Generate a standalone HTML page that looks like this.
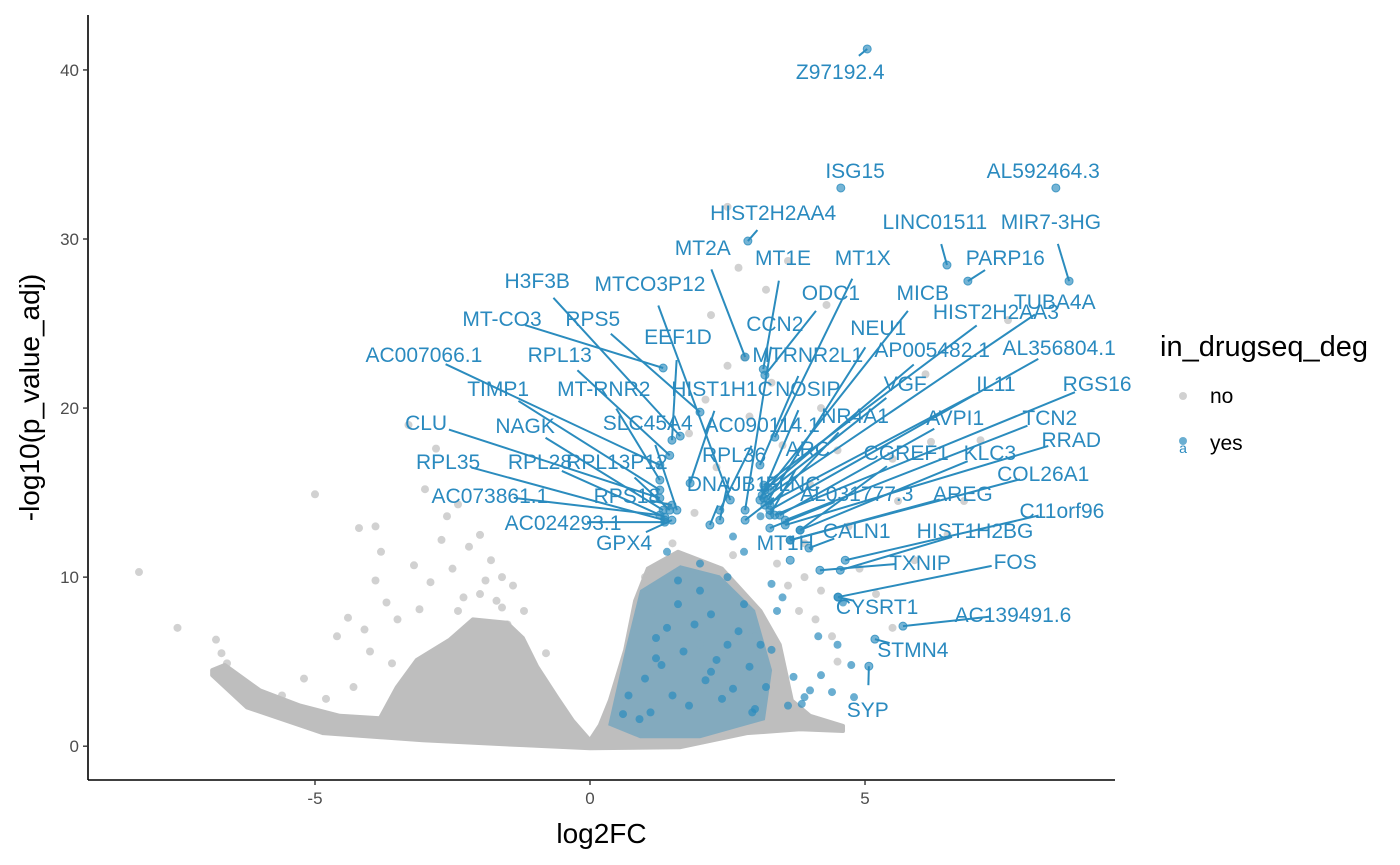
<!DOCTYPE html>
<html><head><meta charset="utf-8">
<style>
html,body{margin:0;padding:0;background:#fff;}
svg{display:block;font-family:"Liberation Sans",Arial,sans-serif;}
</style></head>
<body>
<svg id="chart" width="1400" height="865" viewBox="0 0 1400 865" xmlns="http://www.w3.org/2000/svg"></svg>
<script>
// ---- data ----
const xTicks = [-5, 0, 5];
const yTicks = [0, 10, 20, 30, 40];
// dense gray cloud outline (log2FC, -log10p), upper edge then lower edge
const cloudX = [-6.87,-6.64,-6.0,-5.27,-4.55,-3.82,-3.51,-3.15,-2.55,-2.13,-1.51,-1.22,-0.96,-0.6,-0.31,0,0.18,0.36,0.64,0.82,1.05,1.6,2.4,3.1,3.45,3.67,4.0,4.6,
 4.6,3.82,2.85,1.64,0,-1.22,-3.04,-4.85,-6.24,-6.87];
const cloudY = [4.5,4.8,3.3,2.4,1.8,1.65,3.5,5.1,6.3,7.5,7.3,6.4,4.7,2.9,1.5,0.35,1.25,2.7,5.7,8.6,10.5,11.5,10.5,8.0,6.0,2.7,1.8,1.2,
 0.9,1.0,0.77,-0.06,-0.12,0.06,0.35,0.77,2.3,4.2];
// dense blue/gray mixed region outline
const blueZoneX = [0.33,0.64,0.91,1.64,2.36,3.0,3.31,3.18,2.0,0.91];
const blueZoneY = [1.24,5.68,9.23,10.7,10.1,8.05,4.5,1.54,0.47,0.47];
// scattered gray points
const grayX = [-8.2,-7.5,-6.8,-6.7,-6.6,-5,-4.2,-3.9,-3.8,-3.9,-3.3,-3.2,-3,-2.8,-2.6,-2.4,-2.2,-2,-1.8,-1.6,-1.4,-3.5,-4.4,-4.6,-4.1,-3.7,-2.9,-2.5,-1.9,-1.2,-0.8,-5.2,-5.6,-4.8,-4.3,-3.6,-2.7,-2.3,-1.7,-1.5,-3.1,-4.0,-2.0,-1.6,-2.4,
 2.5,2.7,3.6,3.2,4.3,4.2,2.2,2.8,3.3,4.5,5.5,6.2,7.1,7.6,6.1,5.6,6.8,5.2,5.5,4.5,2.5,1.8,2.3,3.9,4.9,4.2,3.8,1.5,1.0,1.2,2.0,3.0,2.1,2.9,3.5,4.0,4.7,5.9,6.5,3.4,2.6,1.9,1.4,3.6,4.1,4.4,3.9];
const grayY = [10.3,7,6.3,5.5,4.9,14.9,12.9,13,11.5,9.8,19,10.7,15.2,17.6,13.6,14.3,11.8,12.5,11,10,9.5,7.5,7.6,6.5,6.9,8.5,9.7,10.5,9.8,8,5.5,4,3,2.8,3.5,4.9,12.2,8.8,8.6,7.2,8.1,5.6,9.0,8.2,8.0,
 31.9,28.3,28.7,27,26.1,20,25.5,23,21.5,17.5,17,18,18.1,25.2,22,14.5,14.5,9,7,5,22.5,18.5,16.5,12,10.5,9.2,8,12,10,8,6,6.5,20.5,19.5,17.8,15.5,13,11,12.5,10.8,11.3,13.8,14.2,9.5,7.5,6.5,10.0];
// blue (in_drugseq_deg = yes) unlabeled points
const blueX = [2.6,3.1,2.8,3.3,3.5,1.6,1.9,2.3,2.9,3.1,1.2,2.2,4,4.4,3.7,4.2,2.5,2,1.4,3.3,1.0,0.7,1.5,2.6,3.6,4.8,4.75,4.5,1.1,1.8,2.4,3.0,0.9,1.3,1.7,2.1,2.7,3.2,3.9,0.6,1.4,2.0,2.5,3.4,1.6,2.8,1.2,2.2,4.15,4.6,3.85,2.95];
const blueY = [12.4,13.6,11.5,9.6,8.8,8.4,7.2,5.1,4.7,6,6.4,7.8,3.3,3.2,4.1,4.2,10,10.8,11.5,5.7,4.0,3.0,3,3.4,2.4,2.9,4.8,6,2.0,2.4,2.8,2.2,1.6,4.8,5.6,3.9,6.8,3.5,2.9,1.9,7.0,9.2,6.0,8.0,9.8,8.4,5.2,4.4,6.5,8.5,2.5,2.0];
// labelled genes
const geneNames = ["Z97192.4","ISG15","AL592464.3","HIST2H2AA4","LINC01511","MIR7-3HG","MT2A","MT1E","MT1X","PARP16","H3F3B","MTCO3P12","ODC1","MICB","TUBA4A","MT-CO3","RPS5","HIST2H2AA3","CCN2","EEF1D","NEU1","AC007066.1","RPL13","MTRNR2L1","AP005482.1","AL356804.1","HIST1H1C","NOSIP","TIMP1","MT-RNR2","VGF","IL11","RGS16","SLC45A4","AC090114.1","CLU","NAGK","NR4A1","AVPI1","TCN2","RRAD","ARC","RPL36","CGREF1","KLC3","RPL35","RPL28","RPL13P12","COL26A1","DNAJB1","FLNC","AC073861.1","RPS18","AL031777.3","AREG","C11orf96","AC024293.1","HIST1H2BG","CALN1","GPX4","MT1H","TXNIP","FOS","CYSRT1","AC139491.6","STMN4","SYP"];
const geneFC = [5.04,4.56,8.47,2.87,6.49,8.71,2.82,3.15,3.36,6.87,1.64,2.55,3.18,3.13,3.16,1.33,2.0,3.16,2.82,1.49,3.24,1.27,1.45,3.09,3.18,3.27,1.82,3.09,1.27,1.27,3.27,3.18,3.36,1.58,2.36,1.27,1.33,3.27,3.45,3.55,3.55,3.27,2.36,3.82,3.82,1.36,1.36,1.45,3.64,2.18,2.82,1.27,1.49,3.27,3.64,4.64,1.36,4.55,3.98,1.49,3.64,4.18,4.51,4.51,5.69,5.18,5.07];
const genePadj = [41.24,33.02,33.02,29.88,28.46,27.51,23.02,22.3,18.28,27.51,18.34,14.56,21.95,14.85,14.67,22.37,19.76,15.44,13.96,18.1,14.56,16.63,17.2,16.63,15.15,13.96,15.56,14.56,15.15,15.74,15.15,14.26,13.67,13.96,13.96,14.67,13.96,14.26,13.67,13.37,13.08,13.67,13.37,12.78,12.78,13.37,13.55,13.96,12.19,13.08,13.37,13.67,14.26,12.9,12.19,11.0,13.25,10.41,11.72,13.37,11.0,10.41,8.82,8.82,7.1,6.33,4.73];
const labelFC = [4.55,4.82,8.24,3.33,6.27,8.38,2.05,3.51,4.96,7.55,-0.96,1.09,4.38,6.05,8.45,-1.6,0.05,7.38,3.36,1.6,5.24,-3.02,-0.55,3.96,6.22,8.53,2.4,3.96,-1.67,0.25,5.73,7.38,9.22,1.05,3.13,-2.98,-1.18,4.82,6.64,8.36,8.75,3.96,2.62,5.75,7.27,-2.58,-0.91,0.49,8.24,2.49,3.69,-1.82,0.67,4.85,6.78,8.58,-0.49,7.0,4.85,0.62,3.55,6.0,7.73,5.22,7.69,5.87,5.05];
const labelP = [39.94,34.08,34.08,31.6,31.07,31.07,29.53,28.93,28.93,28.93,27.57,27.4,26.86,26.86,26.33,25.33,25.33,25.74,25.03,24.26,24.79,23.2,23.2,23.2,23.49,23.61,21.18,21.18,21.18,21.18,21.48,21.48,21.48,19.17,19.05,19.17,18.99,19.59,19.47,19.47,18.17,17.63,17.28,17.4,17.4,16.86,16.86,16.86,16.15,15.56,15.56,14.85,14.85,14.97,14.97,13.96,13.25,12.78,12.78,12.07,12.07,10.89,10.95,8.28,7.81,5.74,2.19];

// ---- scales ----
const X0=88, X1=1115, Y0=780, Y1=15;
const xMin=-9.127, xMax=9.545, yMin=-2.0, yMax=43.25;
const sx = v => X0 + (v-xMin)/(xMax-xMin)*(X1-X0);
const sy = v => Y0 - (v-yMin)/(yMax-yMin)*(Y0-Y1);
const NS="http://www.w3.org/2000/svg";
const svg=document.getElementById('chart');
function mk(tag, attrs, parent){const e=document.createElementNS(NS,tag);for(const k in attrs)e.setAttribute(k,attrs[k]);(parent||svg).appendChild(e);return e;}

// cloud
const cloud=mk('polygon',{points:cloudX.map((x,i)=>sx(x)+','+sy(cloudY[i])).join(' '),fill:'#bebebe',stroke:'#bebebe','stroke-width':4,'stroke-linejoin':'round'});



grayX.forEach((x,i)=>{const c=mk('circle',{cx:sx(x),cy:sy(grayY[i]),r:4,fill:'#bebebe','fill-opacity':'0.7'});

});

const bz=mk('polygon',{points:blueZoneX.map((x,i)=>sx(x)+','+sy(blueZoneY[i])).join(' '),fill:'#2b8cbe','fill-opacity':'0.4'});



blueX.forEach((x,i)=>{const c=mk('circle',{cx:sx(x),cy:sy(blueY[i]),r:4,fill:'#2b8cbe','fill-opacity':'0.7'});

});

// segments, points, labels
geneNames.forEach((n,i)=>{
  const px=sx(geneFC[i]),py=sy(genePadj[i]),lx=sx(labelFC[i]),ly=sy(labelP[i]);
  const d=Math.hypot(lx-px,ly-py);
  if(d>32){const t=(d-24)/d;const l=mk('line',{x1:px,y1:py,x2:px+(lx-px)*t,y2:py+(ly-py)*t,stroke:'#2b8cbe','stroke-width':2});
  
  }
});
geneNames.forEach((n,i)=>{
  const c=mk('circle',{cx:sx(geneFC[i]),cy:sy(genePadj[i]),r:4,fill:'#2b8cbe','fill-opacity':'0.65',stroke:'#2b8cbe','stroke-opacity':'0.8'});
  
  
  const t=mk('text',{x:sx(labelFC[i]),y:sy(labelP[i])+8,'text-anchor':'middle','font-size':21,fill:'#2a8abf'});
  t.textContent=n;
  
  
});

// axes
const ax=mk('line',{x1:X0,y1:Y1,x2:X0,y2:Y0,stroke:'#000','stroke-width':1.6});


const bx=mk('line',{x1:X0,y1:Y0,x2:X1,y2:Y0,stroke:'#000','stroke-width':1.6});


xTicks.forEach(v=>{
  const tk=mk('line',{x1:sx(v),y1:Y0,x2:sx(v),y2:Y0+5,stroke:'#333','stroke-width':1.4});
  
  
  const t=mk('text',{x:sx(v),y:Y0+24,'text-anchor':'middle','font-size':17,fill:'#4d4d4d'});t.textContent=v;
  
  
});
yTicks.forEach(v=>{
  const tk=mk('line',{x1:X0-5,y1:sy(v),x2:X0,y2:sy(v),stroke:'#333','stroke-width':1.4});
  
  
  const t=mk('text',{x:X0-9,y:sy(v)+6,'text-anchor':'end','font-size':17,fill:'#4d4d4d'});t.textContent=v;
  
  
});
const xt=mk('text',{x:(X0+X1)/2,y:843,'text-anchor':'middle','font-size':28,fill:'#000'});xt.textContent='log2FC';


const yt=mk('text',{x:0,y:0,'text-anchor':'middle','font-size':28,fill:'#000',transform:`translate(39,${(Y0+Y1)/2}) rotate(-90)`});yt.textContent='-log10(p_value_adj)';



// legend
const lt=mk('text',{x:1160,y:356,'font-size':29,fill:'#000'});lt.textContent='in_drugseq_deg';


const ln=mk('circle',{cx:1183,cy:396,r:4,fill:'#bebebe','fill-opacity':'0.7'});


const lnt=mk('text',{x:1210,y:403,'font-size':21,fill:'#000'});lnt.textContent='no';


const ly=mk('circle',{cx:1183,cy:441,r:4,fill:'#2b8cbe','fill-opacity':'0.7'});


const la=mk('text',{x:1183,y:453,'text-anchor':'middle','font-size':14,fill:'#2a8abf'});la.textContent='a';


const lyt=mk('text',{x:1210,y:450,'font-size':21,fill:'#000'});lyt.textContent='yes';


</script>
</body></html>
